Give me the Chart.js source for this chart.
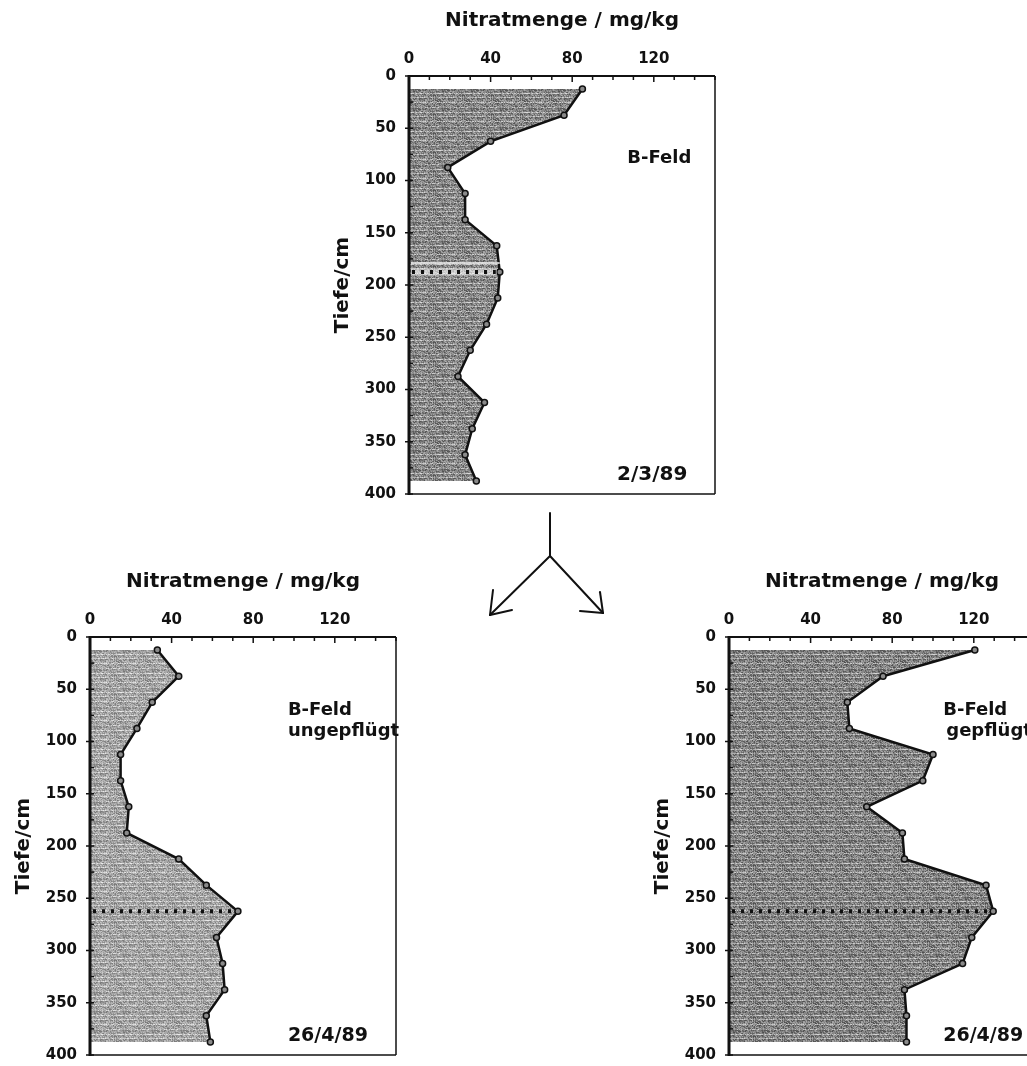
<!DOCTYPE html>
<html>
<head>
<meta charset="utf-8">
<title>Nitratmenge – B-Feld</title>
<script src="https://cdn.jsdelivr.net/npm/chart.js@4.4.1/dist/chart.umd.min.js"></script>
<style>
  html, body { margin: 0; padding: 0; background: #fff; width: 1027px; height: 1066px; overflow: hidden; }
  .panel { position: absolute; }
  .panel canvas { display: block; }
  #arrow { position: absolute; left: 0; top: 0; }
</style>
</head>
<body>
<div class="panel" id="pTop"><canvas id="cTop"></canvas></div>
<div class="panel" id="pLeft"><canvas id="cLeft"></canvas></div>
<div class="panel" id="pRight"><canvas id="cRight"></canvas></div>
<svg id="arrow" width="1027" height="1066">
  <g stroke="#111" stroke-width="2" fill="none" stroke-linecap="round">
    <line x1="550" y1="513" x2="550" y2="556"/>
    <line x1="550" y1="556" x2="490" y2="615"/>
    <line x1="490" y1="615" x2="493" y2="590"/>
    <line x1="490" y1="615" x2="512" y2="610"/>
    <line x1="550" y1="556" x2="603" y2="613"/>
    <line x1="603" y1="613" x2="600" y2="592"/>
    <line x1="603" y1="613" x2="580" y2="611"/>
  </g>
</svg>
<script>
// Sampling depths (cm) of the soil profile
const depths = [12.5, 37.5, 62.5, 87.5, 112.5, 137.5, 162.5, 187.5,
                212.5, 237.5, 262.5, 287.5, 312.5, 337.5, 362.5, 387.5];

// Nitrate content (mg/kg) per depth
const nitrat_2_3_89 = [85, 76, 40, 19, 27.5, 27.5, 43, 44.5, 43.5, 38, 30, 24, 37, 31, 27.5, 33];
const nitrat_26_4_89_ungepfluegt = [33, 43.5, 30.5, 23, 15, 15, 19, 18, 43.5, 57, 72.5, 62, 65, 66, 57, 59];
const nitrat_26_4_89_gepfluegt = [120.5, 75.5, 58, 59, 100, 95, 67.5, 85, 86, 126, 129.5, 119, 114.5, 86, 87, 87];

// Depth of the dotted marker line in each profile (cm)
const markerTop = 187.5;
const markerBottom = 262.5;

// Axis ticks
const xTickLabels = [0, 40, 80, 120];
const yTickLabels = [0, 50, 100, 150, 200, 250, 300, 350, 400];

const FONT = '"DejaVu Sans", "Liberation Sans", sans-serif';
const INK = '#111';

// Grainy grey texture for the filled area (deterministic hash, streaky rows)
function grain(base, amp) {
  const c = document.createElement('canvas');
  c.width = 29; c.height = 19;
  const g = c.getContext('2d');
  for (let yy = 0; yy < c.height; yy++) {
    const row = (yy % 5 === 2) ? amp * 0.45 : 0;
    for (let xx = 0; xx < c.width; xx++) {
      const s = Math.sin(xx * 12.9898 + yy * 78.233) * 43758.5453;
      const h = (s - Math.floor(s)) - 0.5;
      let v = base + h * amp + row;
      v = Math.max(0, Math.min(255, Math.round(v)));
      g.fillStyle = `rgb(${v},${v},${v})`;
      g.fillRect(xx, yy, 1, 1);
    }
  }
  return document.createElement('canvas').getContext('2d').createPattern(c, 'repeat');
}

const framePlugin = {
  id: 'frame',
  afterDraw(chart, args, opts) {
    const { ctx, chartArea: a, scales: { x, y } } = chart;
    const seg = (x1, y1, x2, y2) => { ctx.beginPath(); ctx.moveTo(x1, y1); ctx.lineTo(x2, y2); ctx.stroke(); };
    ctx.save();
    ctx.strokeStyle = INK;
    ctx.fillStyle = INK;

    // dotted marker line across the filled profile
    const mi = depths.indexOf(opts.marker);
    const my = y.getPixelForValue(opts.marker);
    const mx = x.getPixelForValue(chart.data.datasets[0].data[mi].x);
    if (opts.halo) {
      ctx.strokeStyle = '#f4f4f4';
      ctx.lineWidth = 1.5;
      seg(a.left + 2, my - 9, mx, my - 9);
      ctx.lineWidth = 7;
      ctx.strokeStyle = 'rgba(255,255,255,0.55)';
      seg(a.left + 2, my, mx - 3, my);
      ctx.strokeStyle = INK;
    }
    ctx.lineWidth = 4;
    ctx.setLineDash([3, 6]);
    seg(a.left + 3, my, mx - 4, my);
    ctx.setLineDash([]);

    // frame: right and bottom thin, top medium, left heavy
    ctx.lineWidth = 1.5;
    seg(a.right, a.top, a.right, a.bottom);
    seg(a.left, a.bottom, a.right, a.bottom);
    ctx.lineWidth = 2;
    seg(a.left, a.top, a.right, a.top);
    ctx.lineWidth = 3;
    seg(a.left, a.top - 1, a.left, a.bottom + 1);

    // inward ticks on the top axis every 10 mg/kg
    ctx.lineWidth = 1.5;
    for (let v = 0; v <= 150; v += 10) {
      const px = x.getPixelForValue(v);
      if (px > a.right + 0.5) break;
      seg(px, a.top, px, a.top + (v % 40 === 0 ? 6 : 4));
    }
    // ticks on the depth axis: inward every 25 cm, outward at labels
    for (let d = 0; d <= 400; d += 25) {
      const py = y.getPixelForValue(d);
      seg(a.left, py, a.left + 4, py);
      if (d % 50 === 0) seg(a.left - 4, py, a.left, py);
    }

    // annotations
    ctx.textBaseline = 'middle';
    ctx.textAlign = 'left';
    opts.notes.forEach(n => {
      ctx.font = `bold ${n.size}px ${FONT}`;
      ctx.fillText(n.text, x.getPixelForValue(n.at[0]), y.getPixelForValue(n.at[1]));
    });
    ctx.restore();
  }
};

function profile(canvasId, values, fill, marker, halo, notes, plot) {
  const AXW = 90, AXH = 76, PAD = 14;
  const canvas = document.getElementById(canvasId);
  const panel = canvas.parentNode;
  panel.style.left = (plot.left - AXW) + 'px';
  panel.style.top = (plot.top - AXH) + 'px';
  canvas.width = AXW + plot.width + PAD;
  canvas.height = AXH + plot.height + PAD;
  canvas.style.width = canvas.width + 'px';
  canvas.style.height = canvas.height + 'px';

  return new Chart(canvas, {
    type: 'line',
    data: {
      datasets: [{
        data: depths.map((d, i) => ({ x: values[i], y: d })),
        borderColor: INK,
        borderWidth: 2.5,
        backgroundColor: fill,
        fill: 'origin',
        tension: 0,
        pointRadius: 3,
        pointBorderWidth: 1.5,
        pointBorderColor: INK,
        pointBackgroundColor: '#8a8a8a'
      }]
    },
    options: {
      indexAxis: 'y',
      responsive: false,
      animation: false,
      devicePixelRatio: 1,
      layout: { padding: { left: 0, top: 0, right: PAD, bottom: PAD } },
      plugins: {
        legend: { display: false },
        tooltip: { enabled: false },
        frame: { marker, halo, notes }
      },
      scales: {
        x: {
          type: 'linear', position: 'top', min: 0, max: 150,
          grid: { display: false }, border: { display: false },
          afterBuildTicks(s) { s.ticks = xTickLabels.map(v => ({ value: v })); },
          ticks: {
            padding: 1, color: INK, maxRotation: 0, autoSkip: false,
            font: { family: FONT, size: 15, weight: 'bold', lineHeight: 1 }
          },
          title: {
            display: true, text: 'Nitratmenge / mg/kg', color: INK,
            font: { family: FONT, size: 20, weight: 'bold', lineHeight: 1.2 },
            padding: { top: 9, bottom: 0 }
          },
          afterFit(s) { s.height = AXH; }
        },
        y: {
          type: 'linear', position: 'left', reverse: true, min: 0, max: 400,
          grid: { display: false }, border: { display: false },
          afterBuildTicks(s) { s.ticks = yTickLabels.map(v => ({ value: v })); },
          ticks: {
            padding: 5, color: INK, autoSkip: false,
            font: { family: FONT, size: 15, weight: 'bold', lineHeight: 1 }
          },
          title: {
            display: true, text: 'Tiefe/cm', color: INK,
            font: { family: FONT, size: 20, weight: 'bold', lineHeight: 1.2 },
            padding: { top: 12, bottom: 0 }
          },
          afterFit(s) { s.width = AXW; }
        }
      }
    },
    plugins: [framePlugin]
  });
}

profile('cTop', nitrat_2_3_89, grain(128, 95), markerTop, true, [
  { text: 'B-Feld', at: [107, 79], size: 18 },
  { text: '2/3/89', at: [102, 382], size: 20 }
], { left: 409, top: 76, width: 306, height: 418 });

profile('cLeft', nitrat_26_4_89_ungepfluegt, grain(158, 80), markerBottom, false, [
  { text: 'B-Feld', at: [97, 70], size: 18 },
  { text: 'ungepflügt', at: [97, 90], size: 18 },
  { text: '26/4/89', at: [97, 382], size: 19 }
], { left: 90, top: 637, width: 306, height: 418 });

profile('cRight', nitrat_26_4_89_gepfluegt, grain(124, 95), markerBottom, false, [
  { text: 'B-Feld', at: [105, 70], size: 18 },
  { text: 'gepflügt', at: [106.5, 90], size: 18 },
  { text: '26/4/89', at: [105, 382], size: 19 }
], { left: 729, top: 637, width: 306, height: 418 });
</script>
</body>
</html>
